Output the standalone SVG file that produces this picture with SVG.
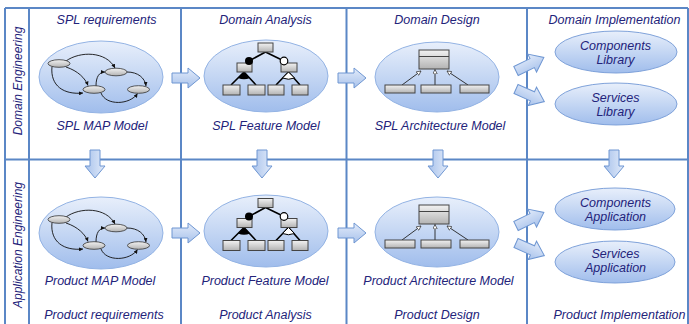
<svg xmlns="http://www.w3.org/2000/svg" xmlns:xlink="http://www.w3.org/1999/xlink" width="689" height="324" viewBox="0 0 689 324">
  <style>
    .grid { stroke: #5b87c6; stroke-width: 2; fill: none; }
    .t { font-family: "Liberation Sans", Arial, sans-serif; font-style: italic; font-size: 12.5px; fill: #23237a; text-anchor: middle; }
    .lbl { font-family: "Liberation Sans", Arial, sans-serif; font-style: italic; font-size: 12px; fill: #23237a; text-anchor: middle; }
    .big { fill: url(#ellG); stroke: #93b3e4; stroke-width: 1; }
    .small { fill: url(#ellG); stroke: #7fa2da; stroke-width: 1; }
    .node { fill: url(#grayG); stroke: #333; stroke-width: 0.8; }
    .box { fill: url(#grayG); stroke: #444; stroke-width: 1; }
    .edge { fill: none; stroke: #111; stroke-width: 0.9; marker-end: url(#ah); }
    .tree { fill: none; stroke: #000; stroke-width: 1.6; }
    .gen { fill: none; stroke: #222; stroke-width: 0.9; marker-end: url(#tri); }
    .barrow { fill: url(#arrG); stroke: #6e96d2; stroke-width: 1; }
  </style>
  <defs>
    <linearGradient id="ellG" x1="0" y1="0" x2="0" y2="1">
      <stop offset="0" stop-color="#e8effb"/>
      <stop offset="0.45" stop-color="#c8d9f4"/>
      <stop offset="1" stop-color="#a0bdec"/>
    </linearGradient>
    <linearGradient id="grayG" x1="0" y1="0" x2="0" y2="1">
      <stop offset="0" stop-color="#f2f2f2"/>
      <stop offset="1" stop-color="#b3b3b3"/>
    </linearGradient>
    <linearGradient id="arrG" x1="0" y1="0" x2="0" y2="1">
      <stop offset="0" stop-color="#e2ebfa"/>
      <stop offset="1" stop-color="#a8c2eb"/>
    </linearGradient>
    <marker id="ah" viewBox="0 0 6 6" refX="6" refY="3" markerWidth="4" markerHeight="4" markerUnits="userSpaceOnUse" orient="auto">
      <path d="M0,0 L6,3 L0,6 Z" fill="#111"/>
    </marker>
    <marker id="tri" viewBox="0 0 8 8" refX="7.5" refY="4" markerWidth="5" markerHeight="5" markerUnits="userSpaceOnUse" orient="auto">
      <path d="M0.5,0.5 L7.5,4 L0.5,7.5 Z" fill="#fff" stroke="#222" stroke-width="1"/>
    </marker>
    <path id="arrow" d="M0,-5 H16 V-10 L28,0 L16,10 V5 H0 Z"/>
    <path id="arrowLong" d="M0,-5 H18 V-10 L31,0 L18,10 V5 H0 Z"/>

    <!-- process map: four states and their transitions -->
    <g id="mapGfx">
      <path class="edge" d="M66,61 C80,51 106,51 115,68"/>
      <path class="edge" d="M66,67 C78,71 85,78 88,85.5"/>
      <path class="edge" d="M52,66.5 C50,86 64,95 83,93"/>
      <path class="edge" d="M96,86 C96,77 99,72 105,72"/>
      <path class="edge" d="M127,72 C138,72 145,78 146,86"/>
      <path class="edge" d="M101,93 C106,106 130,105 137.5,93.5"/>
      <ellipse class="node" cx="59" cy="63.5" rx="11" ry="3.8"/>
      <ellipse class="node" cx="116" cy="72" rx="11" ry="3.8"/>
      <ellipse class="node" cx="94" cy="89.5" rx="11" ry="3.8"/>
      <ellipse class="node" cx="138.5" cy="89.5" rx="11" ry="3.8"/>
    </g>

    <!-- feature tree: root, mandatory/optional children, groups -->
    <g id="featGfx">
      <path class="tree" d="M265.5,52 L249,61 M265.5,52 L284,61"/>
      <path class="tree" d="M244,72 L231,85 M244,72 L256,85"/>
      <path class="tree" d="M288.5,72 L276,85 M288.5,72 L300,85"/>
      <path d="M244,72 L238,78 Q244,80.5 250,78 Z" fill="#000"/>
      <path d="M288.5,72 L282.5,78 Q288.5,80.5 294.5,78 Z" fill="#fff" stroke="#000" stroke-width="1"/>
      <rect class="box" x="258" y="43" width="15" height="9"/>
      <rect class="box" x="237" y="63" width="15" height="9"/>
      <rect class="box" x="281" y="63" width="16" height="9"/>
      <rect class="box" x="223" y="85" width="17" height="10"/>
      <rect class="box" x="248" y="85" width="17" height="10"/>
      <rect class="box" x="268" y="85" width="16" height="10"/>
      <rect class="box" x="292" y="85" width="16" height="10"/>
      <circle cx="249" cy="61" r="4" fill="#000"/>
      <circle cx="284" cy="61" r="3.8" fill="#fff" stroke="#000" stroke-width="1.2"/>
    </g>

    <!-- architecture: base class and three specialisations -->
    <g id="archGfx">
      <path class="gen" d="M402,85 L421,71"/>
      <path class="gen" d="M435,85 L435,69.5"/>
      <path class="gen" d="M468,85 L447,71"/>
      <rect class="box" x="419" y="50" width="30" height="19"/>
      <line x1="419" y1="56.5" x2="449" y2="56.5" stroke="#444" stroke-width="1"/>
      <rect class="box" x="385" y="85" width="30" height="8"/>
      <rect class="box" x="421" y="85" width="30" height="8"/>
      <rect class="box" x="460" y="85" width="29" height="8"/>
    </g>
  </defs>

  <!-- table frame -->
  <g id="frame">
    <line class="grid" x1="5" y1="8" x2="688" y2="8"/>
    <line class="grid" x1="5" y1="159.5" x2="688" y2="159.5"/>
    <line class="grid" x1="5" y1="8" x2="5" y2="324"/>
    <line class="grid" x1="29" y1="8" x2="29" y2="324"/>
    <line class="grid" x1="181" y1="8" x2="181" y2="324"/>
    <line class="grid" x1="346.5" y1="8" x2="346.5" y2="324"/>
    <line class="grid" x1="527" y1="8" x2="527" y2="324"/>
    <line class="grid" x1="688" y1="8" x2="688" y2="324"/>
  </g>

  <!-- row and column headings -->
  <g id="headings">
    <text class="lbl" transform="translate(21.5,81) rotate(-90)">Domain Engineering</text>
    <text class="lbl" transform="translate(21.5,245) rotate(-90)">Application Engineering</text>
    <text class="t" x="106.5" y="23.5">SPL requirements</text>
    <text class="t" x="265.5" y="23.5">Domain Analysis</text>
    <text class="t" x="437" y="23.5">Domain Design</text>
    <text class="t" x="614.5" y="23.5">Domain Implementation</text>
    <text class="t" x="104" y="318.5">Product requirements</text>
    <text class="t" x="265.5" y="318.5">Product Analysis</text>
    <text class="t" x="437" y="318.5">Product Design</text>
    <text class="t" x="619.5" y="318.5">Product Implementation</text>
  </g>

  <!-- connectors -->
  <g id="connectors">
    <use xlink:href="#arrow" class="barrow" transform="translate(172,78)"/>
    <use xlink:href="#arrow" class="barrow" transform="translate(338,78)"/>
    <use xlink:href="#arrow" class="barrow" transform="translate(172,233)"/>
    <use xlink:href="#arrow" class="barrow" transform="translate(338,233)"/>
    <use xlink:href="#arrow" class="barrow" transform="translate(95,150) rotate(90)"/>
    <use xlink:href="#arrow" class="barrow" transform="translate(262,150) rotate(90)"/>
    <use xlink:href="#arrow" class="barrow" transform="translate(438,150) rotate(90)"/>
    <use xlink:href="#arrow" class="barrow" transform="translate(614,150) rotate(90)"/>
    <use xlink:href="#arrowLong" class="barrow" transform="translate(516,71) rotate(-26)"/>
    <use xlink:href="#arrowLong" class="barrow" transform="translate(516,89) rotate(24)"/>
    <use xlink:href="#arrowLong" class="barrow" transform="translate(516,226) rotate(-26)"/>
    <use xlink:href="#arrowLong" class="barrow" transform="translate(516,243) rotate(24)"/>
  </g>

  <!-- domain engineering row -->
  <g id="spl-map-model">
    <ellipse class="big" cx="101" cy="77" rx="62" ry="36"/>
    <use xlink:href="#mapGfx"/>
    <text class="t" x="102" y="129.5">SPL MAP Model</text>
  </g>
  <g id="spl-feature-model">
    <ellipse class="big" cx="266" cy="76" rx="62" ry="36"/>
    <use xlink:href="#featGfx"/>
    <text class="t" x="266" y="129.5">SPL Feature Model</text>
  </g>
  <g id="spl-architecture-model">
    <ellipse class="big" cx="437" cy="77" rx="62" ry="35"/>
    <use xlink:href="#archGfx"/>
    <text class="t" x="440" y="129.5">SPL Architecture Model</text>
  </g>
  <g id="components-library">
    <ellipse class="small" cx="616" cy="52" rx="61" ry="21"/>
    <text class="t" x="615.5" y="49.5">Components</text>
    <text class="t" x="615.5" y="63.5">Library</text>
  </g>
  <g id="services-library">
    <ellipse class="small" cx="616" cy="104" rx="61" ry="21"/>
    <text class="t" x="615.5" y="101.5">Services</text>
    <text class="t" x="615.5" y="115.5">Library</text>
  </g>

  <!-- application engineering row -->
  <g id="product-map-model">
    <ellipse class="big" cx="101" cy="233" rx="62" ry="36"/>
    <use xlink:href="#mapGfx" transform="translate(0,156)"/>
    <text class="t" x="100" y="284.5">Product MAP Model</text>
  </g>
  <g id="product-feature-model">
    <ellipse class="big" cx="266" cy="231" rx="62" ry="36"/>
    <use xlink:href="#featGfx" transform="translate(0,155.5)"/>
    <text class="t" x="265" y="284.5">Product Feature Model</text>
  </g>
  <g id="product-architecture-model">
    <ellipse class="big" cx="437" cy="232" rx="62" ry="35"/>
    <use xlink:href="#archGfx" transform="translate(0,155)"/>
    <text class="t" x="438.5" y="284.5">Product Architecture Model</text>
  </g>
  <g id="components-application">
    <ellipse class="small" cx="615" cy="209" rx="60" ry="21"/>
    <text class="t" x="615.5" y="206.5">Components</text>
    <text class="t" x="615.5" y="220.5">Application</text>
  </g>
  <g id="services-application">
    <ellipse class="small" cx="615" cy="262" rx="60" ry="21"/>
    <text class="t" x="615.5" y="257.5">Services</text>
    <text class="t" x="615.5" y="271.5">Application</text>
  </g>
</svg>
